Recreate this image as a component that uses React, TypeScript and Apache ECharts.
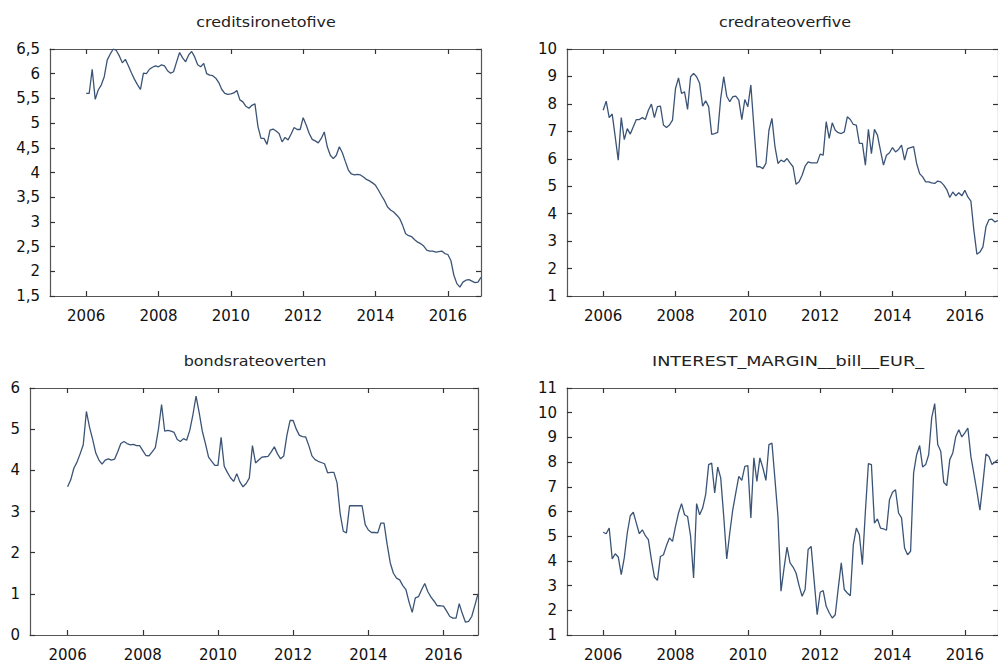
import React, { useEffect, useRef } from "react";
import * as echarts from "echarts";

const START_YEAR = 2006;
const YEAR_TICKS = [2006, 2008, 2010, 2012, 2014, 2016];
const TITLES = ["creditsironetofive", "credrateoverfive", "bondsrateoverten", "INTEREST_MARGIN__bill__EUR_"];

// monthly values, Jan 2006 .. Dec 2016
const creditsironetofive = [
  5.6, 5.6, 6.09, 5.48, 5.67, 5.77, 5.94, 6.28, 6.4, 6.5, 6.47, 6.36,
  6.22, 6.29, 6.16, 6.02, 5.89, 5.78, 5.68, 6.01, 6.0, 6.09, 6.13, 6.16,
  6.14, 6.18, 6.16, 6.06, 6.01, 6.04, 6.24, 6.43, 6.32, 6.24, 6.38, 6.45,
  6.34, 6.18, 6.14, 6.21, 6.0, 5.97, 5.96, 5.91, 5.82, 5.68, 5.6, 5.58,
  5.59, 5.61, 5.66, 5.47, 5.43, 5.34, 5.3, 5.36, 5.39, 4.93, 4.69, 4.69,
  4.57, 4.86, 4.88, 4.84, 4.79, 4.62, 4.71, 4.66, 4.78, 4.91, 4.87, 4.87,
  5.11, 4.96, 4.79, 4.67, 4.64, 4.6, 4.69, 4.82, 4.52, 4.35, 4.28, 4.35,
  4.52, 4.4, 4.22, 4.05, 3.97, 3.95, 3.96, 3.95, 3.91, 3.86, 3.83, 3.79,
  3.74, 3.64, 3.53, 3.43, 3.3, 3.24, 3.2, 3.14, 3.07, 2.93, 2.76, 2.72,
  2.7, 2.64, 2.59, 2.56, 2.51, 2.43, 2.41, 2.41, 2.39, 2.4, 2.41, 2.36,
  2.34, 2.22, 1.92, 1.75, 1.68, 1.78, 1.82, 1.83, 1.8, 1.77, 1.78, 1.88,
];

const credrateoverfive = [
  7.77, 8.1, 7.5, 7.63, 6.8, 5.95, 7.5, 6.7, 7.1, 6.9, 7.17, 7.43,
  7.43, 7.5, 7.43, 7.77, 7.99, 7.5, 7.9, 7.92, 7.23, 7.14, 7.23, 7.41,
  8.56, 8.95, 8.38, 8.44, 7.8, 8.99, 9.11, 8.99, 8.75, 7.92, 8.11, 7.9,
  6.89, 6.92, 6.96, 8.2, 8.99, 8.28, 8.08, 8.26, 8.28, 8.14, 7.43, 8.16,
  7.9, 8.69, 7.17, 5.71, 5.71, 5.64, 5.83, 7.04, 7.47, 6.44, 5.83, 5.95,
  5.89, 6.01, 5.85, 5.71, 5.07, 5.16, 5.4, 5.73, 5.89, 5.85, 5.85, 5.85,
  6.17, 6.13, 7.35, 6.74, 7.31, 7.04, 6.95, 6.92, 6.98, 7.53, 7.43, 7.25,
  7.23, 6.56, 6.56, 5.77, 7.07, 6.19, 7.07, 6.86, 6.31, 5.77, 6.13, 6.22,
  6.41, 6.25, 6.34, 6.5, 5.95, 6.37, 6.41, 6.44, 5.83, 5.46, 5.34, 5.16,
  5.16, 5.12, 5.1, 5.19, 5.16, 5.04, 4.88, 4.59, 4.79, 4.65, 4.76, 4.65,
  4.85, 4.61, 4.46, 3.39, 2.52, 2.6, 2.79, 3.52, 3.78, 3.8, 3.7, 3.75,
];

const bondsrateoverten = [
  3.6, 3.77, 4.05, 4.2, 4.4, 4.62, 5.43, 5.05, 4.75, 4.42, 4.25, 4.15,
  4.25, 4.28, 4.25, 4.27, 4.45, 4.65, 4.7, 4.65, 4.62, 4.63, 4.6, 4.6,
  4.48, 4.36, 4.35, 4.45, 4.55, 5.0, 5.6, 4.95, 4.97, 4.95, 4.92, 4.75,
  4.7, 4.77, 4.73, 4.97, 5.35, 5.8, 5.4, 4.95, 4.65, 4.32, 4.22, 4.12,
  4.12, 4.8, 4.1, 3.95, 3.82, 3.73, 3.92, 3.72, 3.6, 3.68, 3.81, 4.6,
  4.18, 4.25, 4.32, 4.33, 4.34, 4.45, 4.57, 4.4, 4.28, 4.35, 4.85, 5.21,
  5.21, 5.0, 4.85, 4.82, 4.81, 4.6, 4.35, 4.26, 4.22, 4.19, 4.16, 3.94,
  3.95, 3.95, 3.7, 2.95, 2.52, 2.48, 3.14, 3.14, 3.14, 3.14, 3.14, 2.68,
  2.55, 2.49, 2.49, 2.48, 2.72, 2.72, 2.2, 1.75, 1.5, 1.38, 1.34, 1.2,
  1.1, 0.8, 0.55, 0.9, 0.93, 1.1, 1.25, 1.05, 0.92, 0.82, 0.71, 0.71,
  0.7, 0.58, 0.45, 0.41, 0.41, 0.76, 0.52, 0.31, 0.33, 0.45, 0.72, 1.0,
];

const interestMargin = [
  5.16, 5.1, 5.33, 4.08, 4.29, 4.16, 3.44, 4.12, 5.13, 5.83, 5.97, 5.53,
  5.1, 5.26, 5.02, 4.86, 4.05, 3.35, 3.21, 4.18, 4.25, 4.62, 4.93, 4.79,
  5.4, 5.94, 6.32, 5.87, 5.8, 5.0, 3.31, 6.32, 5.87, 6.14, 6.68, 7.9,
  7.96, 6.75, 7.8, 7.36, 5.8, 4.08, 5.13, 6.07, 6.75, 7.42, 7.26, 7.83,
  7.86, 5.74, 8.17, 7.22, 8.17, 7.76, 7.26, 8.71, 8.77, 7.3, 5.8, 2.77,
  3.7, 4.56, 3.92, 3.75, 3.51, 3.0, 2.57, 2.84, 4.46, 4.59, 3.2, 1.82,
  2.73, 2.8, 2.16, 1.9, 1.69, 1.82, 2.9, 3.92, 2.84, 2.7, 2.59, 4.66,
  5.33, 5.06, 3.85, 6.0, 7.94, 7.9, 5.53, 5.7, 5.33, 5.3, 5.24, 6.48,
  6.78, 6.88, 5.94, 5.74, 4.52, 4.25, 4.39, 7.56, 8.3, 8.67, 7.8, 7.9,
  8.3, 9.79, 10.37, 8.71, 8.44, 7.18, 7.05, 8.1, 8.37, 9.04, 9.31, 9.02,
  9.18, 9.38, 8.23, 7.53, 6.82, 6.05, 7.15, 8.33, 8.23, 7.9, 8.0, 8.1,
];

const SERIES = [creditsironetofive, credrateoverfive, bondsrateoverten, interestMargin];
const Y_MIN = [1.5, 1, 0, 1];
const Y_MAX = [6.5, 10, 6, 11];
const Y_STEP = [0.5, 1, 1, 1];

const GRIDS = [
  { left: 50, top: 49, width: 431, height: 247 },
  { left: 567, top: 49, width: 439, height: 247 },
  { left: 30, top: 388, width: 448, height: 247 },
  { left: 567, top: 388, width: 439, height: 247 },
];
const TITLE_POS = [
  { x: 266, y: 22, sx: 1.14 },
  { x: 785, y: 22, sx: 1.14 },
  { x: 255, y: 361, sx: 1.14 },
  { x: 788, y: 361, sx: 1.26 },
];

const FONT = "DejaVu Sans";
const AXIS_COLOR = "#555";
const TICK_COLOR = "#333";
const LINE_COLOR = "#3b5476";
const X_MIN = 2005;
const X_MAX = 2016 + 11 / 12;

export default function App() {
  const ref = useRef<HTMLDivElement>(null);
  useEffect(() => {
    if (!ref.current) return;
    const chart = echarts.init(ref.current, null, { renderer: "svg" });
    const xAxis: any[] = [];
    const yAxis: any[] = [];
    const series: any[] = [];
    GRIDS.forEach((_, i) => {
      const lineStyle = { color: AXIS_COLOR, width: 1.2 };
      xAxis.push({
        gridIndex: i, type: "value", min: X_MIN, max: X_MAX, position: "bottom",
        axisLine: { show: true, onZero: false, lineStyle },
        axisTick: { show: true, inside: true, length: 5, customValues: YEAR_TICKS, lineStyle: { color: TICK_COLOR, width: 1.2 } },
        axisLabel: { show: true, customValues: YEAR_TICKS, margin: 12, fontSize: 15, fontFamily: FONT, color: "#111", formatter: (v: number) => String(Math.round(v)) },
        splitLine: { show: false },
      });
      xAxis.push({
        gridIndex: i, type: "value", min: X_MIN, max: X_MAX, position: "top",
        axisLine: { show: true, onZero: false, lineStyle },
        axisTick: { show: true, inside: true, length: 5, customValues: YEAR_TICKS, lineStyle: { color: TICK_COLOR, width: 1.2 } },
        axisLabel: { show: false },
        splitLine: { show: false },
      });
      yAxis.push({
        gridIndex: i, type: "value", min: Y_MIN[i], max: Y_MAX[i], interval: Y_STEP[i], position: "left",
        axisLine: { show: true, onZero: false, lineStyle },
        axisTick: { show: true, inside: true, length: 5, lineStyle: { color: TICK_COLOR, width: 1.2 } },
        axisLabel: { show: true, margin: 10, fontSize: 15, fontFamily: FONT, color: "#111", formatter: (v: number) => String(v).replace(".", ",") },
        splitLine: { show: false },
      });
      yAxis.push({
        gridIndex: i, type: "value", min: Y_MIN[i], max: Y_MAX[i], interval: Y_STEP[i], position: "right",
        axisLine: { show: true, onZero: false, lineStyle },
        axisTick: { show: true, inside: true, length: 5, lineStyle: { color: TICK_COLOR, width: 1.2 } },
        axisLabel: { show: false },
        splitLine: { show: false },
      });
      series.push({
        type: "line",
        xAxisIndex: 2 * i,
        yAxisIndex: 2 * i,
        data: SERIES[i].map((v, k) => [START_YEAR + k / 12, v]),
        showSymbol: false,
        symbol: "none",
        lineStyle: { color: LINE_COLOR, width: 1.3 },
        clip: true,
      });
    });
    const graphic = TITLES.map((t, i) => ({
      type: "text",
      x: TITLE_POS[i].x,
      y: TITLE_POS[i].y,
      scaleX: TITLE_POS[i].sx,
      style: { text: t, x: 0, y: 0, align: "center", verticalAlign: "middle", fontSize: 14, fontFamily: FONT, fill: "#222" },
    }));
    chart.setOption({
      animation: false,
      backgroundColor: "#fff",
      grid: GRIDS,
      xAxis,
      yAxis,
      series,
      graphic,
    });
    return () => chart.dispose();
  }, []);
  return <div ref={ref} style={{ position: "absolute", left: 0, top: 0, width: 998, height: 662 }} />;
}
